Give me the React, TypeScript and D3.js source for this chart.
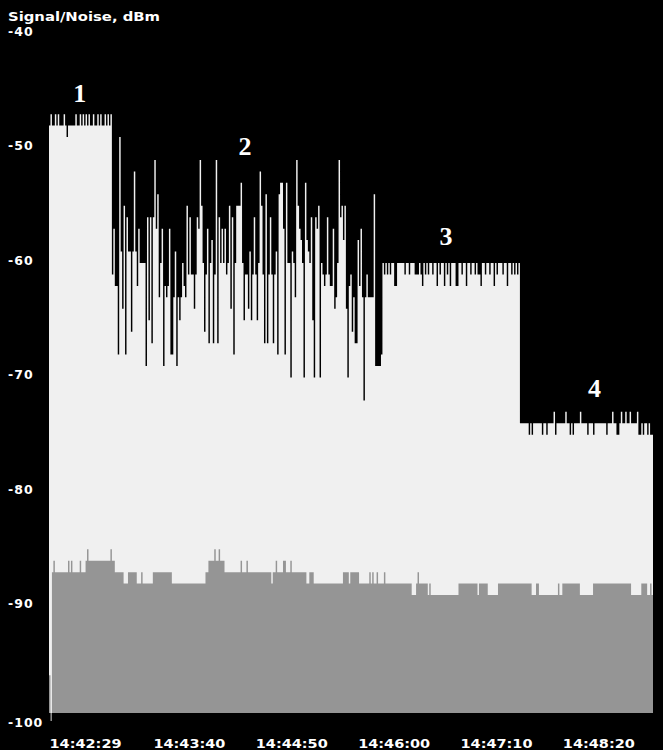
import React from "react";
import * as d3 from "d3";

// ---------- layout ----------
const WIDTH = 663;
const HEIGHT = 750;
const PLOT_LEFT = 49;
const PLOT_RIGHT = 653;
const PLOT_BOTTOM = 713;
const Y_PX_TOP = 34; // pixel of -40 dBm
const Y_PX_BOTTOM = 721; // pixel of -100 dBm

// ---------- data ----------
const START_TIME = "14:42:04";
const SAMPLE_COUNT = 413; // one sample per second

const yTickValues = [-40, -50, -60, -70, -80, -90, -100];
const timeTickLabels = ["14:42:29", "14:43:40", "14:44:50", "14:46:00", "14:47:10", "14:48:20"];

const regionStarts = [0, 43, 228, 322];

// region 1: flat with 1 dB flicker
const region1Base = -48;
const region1UpLevel = -47;
const region1UpTicks = [1, 4, 6, 10, 18, 21, 23, 25, 27, 30, 33, 35, 38, 40, 42];
const region1DownLevel = -49;
const region1DownTicks = [12];

// region 2: strongly fluctuating signal, one value per second (t = 43 ... 227)
const region2Values = [
  -61, -57, -62, -62, -68, -49, -59, -64, -55, -68,
  -56, -59, -59, -66, -59, -52, -59, -62, -57, -60,
  -60, -60, -60, -69, -56, -65, -56, -67, -56, -51,
  -57, -54, -63, -60, -57, -69, -62, -63, -62, -57,
  -68, -68, -63, -59, -69, -63, -65, -63, -60, -62,
  -63, -55, -61, -56, -61, -61, -64, -61, -56, -57,
  -51, -55, -60, -66, -61, -57, -67, -60, -58, -67,
  -61, -51, -67, -56, -60, -57, -60, -57, -61, -60,
  -55, -64, -56, -68, -60, -55, -55, -55, -53, -60,
  -65, -61, -61, -64, -59, -65, -61, -56, -61, -65,
  -60, -52, -55, -61, -67, -54, -67, -61, -56, -61,
  -67, -61, -59, -68, -54, -53, -53, -57, -68, -53,
  -60, -60, -70, -59, -60, -63, -51, -55, -57, -58,
  -60, -70, -53, -58, -59, -60, -56, -65, -70, -56,
  -57, -55, -70, -60, -61, -62, -61, -56, -61, -62,
  -62, -57, -64, -63, -60, -51, -56, -55, -58, -55,
  -64, -70, -62, -61, -66, -63, -67, -67, -58, -62,
  -57, -63, -72, -63, -61, -63, -63, -63, -63, -54,
  -69, -69, -69, -69, -68,
];

// region 3
const region3Base = -60;
const region3Level61 = -61;
const region3Ticks61 = [229, 231, 233, 243, 246, 250, 251, 252, 254, 257, 259, 262, 267, 272, 282, 288, 291, 293, 294, 298, 301, 306, 310, 316, 318, 320];
const region3Level62 = -62;
const region3Ticks62 = [236, 237, 255, 265, 270, 274, 278, 279, 285, 295, 304, 313];

// region 4
const region4Base = -74;
const region4UpLevel = -73;
const region4UpTicks = [345, 353, 363, 385, 391, 394, 397, 402];
const region4DownLevel = -75;
const region4DownTicks = [328, 330, 337, 340, 346, 356, 358, 368, 372, 381, 388, 389, 403, 404, 406, 409, 411, 412];

// noise floor as steps [second, dBm]
const noiseSteps: [number, number][] = [
  [0, -96], [1, -100], [2, -87], [3, -86], [4, -87], [13, -86], [14, -87], [15, -86], [16, -87],
  [21, -86], [22, -87], [25, -86], [26, -85], [27, -86], [42, -85], [43, -86], [45, -87], [51, -88],
  [54, -87], [60, -88], [63, -87], [64, -88], [71, -87], [84, -88], [107, -87], [109, -86], [113, -85],
  [114, -86], [116, -85], [117, -86], [120, -87], [131, -86], [132, -87], [135, -86], [136, -87],
  [152, -88], [153, -87], [155, -86], [156, -87], [160, -86], [162, -87], [165, -86], [166, -87],
  [176, -88], [178, -87], [181, -88], [201, -87], [205, -88], [206, -87], [212, -88], [219, -87],
  [220, -88], [221, -87], [222, -88], [224, -87], [225, -88], [229, -87], [230, -88], [248, -89],
  [251, -88], [252, -87], [253, -88], [259, -89], [260, -88], [261, -89], [280, -88], [293, -89],
  [294, -88], [300, -89], [307, -88], [330, -89], [333, -88], [335, -89], [348, -88], [349, -89],
  [351, -88], [363, -89], [372, -88], [398, -89], [405, -88], [409, -89], [411, -88], [412, -89],
];

// region annotations
const regionLabels = ["1", "2", "3", "4"];
const regionLabelT = [21, 134, 271.5, 373];
const regionLabelDb = [-45.9, -50.6, -58.4, -71.7];

// ---------- build series ----------
function buildSignal(): number[] {
  const s: number[] = new Array(SAMPLE_COUNT);
  for (let t = regionStarts[0]; t < regionStarts[1]; t++) s[t] = region1Base;
  region1UpTicks.forEach((t) => (s[t] = region1UpLevel));
  region1DownTicks.forEach((t) => (s[t] = region1DownLevel));
  region2Values.forEach((v, i) => (s[regionStarts[1] + i] = v));
  for (let t = regionStarts[2]; t < regionStarts[3]; t++) s[t] = region3Base;
  region3Ticks61.forEach((t) => (s[t] = region3Level61));
  region3Ticks62.forEach((t) => (s[t] = region3Level62));
  for (let t = regionStarts[3]; t < SAMPLE_COUNT; t++) s[t] = region4Base;
  region4UpTicks.forEach((t) => (s[t] = region4UpLevel));
  region4DownTicks.forEach((t) => (s[t] = region4DownLevel));
  return s;
}

export default function App() {
  const parse = d3.timeParse("%H:%M:%S");
  const start = parse(START_TIME) as Date;
  const at = (sec: number) => new Date(start.getTime() + sec * 1000);

  const x = d3.scaleTime().domain([start, at(SAMPLE_COUNT)]).range([PLOT_LEFT, PLOT_RIGHT]);
  const y = d3.scaleLinear().domain([-100, -40]).range([Y_PX_BOTTOM, Y_PX_TOP]);

  const signal = buildSignal();
  const sigPts = signal.map((v, t) => ({ t, v }));
  sigPts.push({ t: SAMPLE_COUNT, v: signal[SAMPLE_COUNT - 1] });

  const noisePts = noiseSteps.map(([t, v]) => ({ t, v }));
  noisePts.push({ t: SAMPLE_COUNT, v: noiseSteps[noiseSteps.length - 1][1] });

  const area = d3
    .area<{ t: number; v: number }>()
    .x((d) => x(at(d.t)))
    .y0(PLOT_BOTTOM)
    .y1((d) => y(d.v))
    .curve(d3.curveStepAfter);

  const timeTicks = timeTickLabels.map((l) => parse(l) as Date);
  const fmt = d3.timeFormat("%H:%M:%S");

  const font = "'DejaVu Sans', Verdana, sans-serif";

  return (
    <svg
      width={WIDTH}
      height={HEIGHT}
      style={{ position: "absolute", left: 0, top: 0, background: "#000", display: "block" }}
    >
      <rect x={0} y={0} width={WIDTH} height={HEIGHT} fill="#000" />
      <path d={area(sigPts) || ""} fill="#f0f0f0" />
      <path d={area(noisePts) || ""} fill="#959595" />

      <text
        x={8}
        y={20.5}
        fill="#fff"
        fontFamily={font}
        fontWeight="bold"
        fontSize={13}
        textLength={152}
        lengthAdjust="spacingAndGlyphs"
      >
        Signal/Noise, dBm
      </text>

      {yTickValues.map((v) => (
        <text
          key={v}
          x={8}
          y={v === -100 ? PLOT_BOTTOM + 14 : y(v) + 1.5}
          fill="#fff"
          fontFamily={font}
          fontWeight="bold"
          fontSize={12.5}
          letterSpacing={1}
        >
          {v}
        </text>
      ))}

      {timeTicks.map((d, i) => (
        <text
          key={i}
          x={x(d)}
          y={747.5}
          fill="#fff"
          fontFamily={font}
          fontWeight="bold"
          fontSize={13}
          textAnchor="middle"
          textLength={72}
          lengthAdjust="spacingAndGlyphs"
        >
          {fmt(d)}
        </text>
      ))}

      {regionLabels.map((l, i) => (
        <text
          key={l}
          x={x(at(regionLabelT[i]))}
          y={y(regionLabelDb[i])}
          fill="#fff"
          fontFamily="'Liberation Serif', 'Times New Roman', serif"
          fontWeight="bold"
          fontSize={26}
          textAnchor="middle"
        >
          {l}
        </text>
      ))}
    </svg>
  );
}
